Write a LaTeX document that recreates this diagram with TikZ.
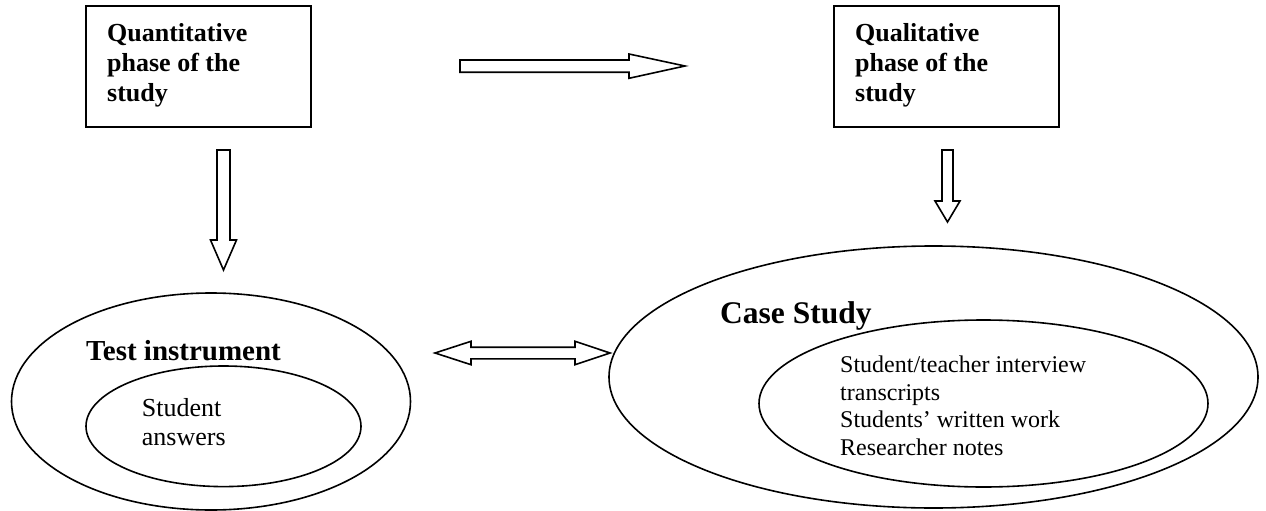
\documentclass[tikz,border=0pt]{standalone}
\usepackage{fontspec}
\setmainfont{Liberation Serif}
\usetikzlibrary{shapes.geometric}
\begin{document}
\begin{tikzpicture}[x=1pt,y=-1pt,
  phasebox/.style={draw,line width=2pt,rectangle,minimum width=225pt,minimum height=121pt,inner sep=0pt},
  oval/.style={draw,line width=1.6pt,ellipse,inner sep=0pt},
  blockarrow/.style={draw,line width=1.6pt,line join=miter},
  boxtext/.style={anchor=base west,inner sep=0pt,align=left,font=\bfseries\fontsize{26}{30}\selectfont},
  titletext/.style={anchor=base west,inner sep=0pt,font=\bfseries\fontsize{29}{33}\selectfont},
  itemtext/.style={anchor=base west,inner sep=0pt,align=left,font=\fontsize{24}{27.5}\selectfont}
]
\useasboundingbox (0,0) rectangle (1266,511);
% boxes
\node[phasebox] (quant) at (198.5,66.5) {};
\node[phasebox] (qual) at (946.5,66.5) {};
\node[boxtext] (quanttext) at (107,101.7) {Quantitative\\phase of the\\study};
\node[boxtext] (qualtext) at (855,101.7) {Qualitative\\phase of the\\study};
% ellipses
\node[oval,minimum width=399pt,minimum height=217pt] (testouter) at (211,401.5) {};
\node[oval,minimum width=275pt,minimum height=120.6pt] (testinner) at (223.5,426.3) {};
\node[oval,minimum width=649pt,minimum height=262pt] (caseouter) at (933.5,377) {};
\node[oval,minimum width=449pt,minimum height=167pt] (caseinner) at (983.5,403.5) {};
% texts
\node[titletext] (testtitle) at (86,360) {Test instrument};
\node[titletext,font=\bfseries\fontsize{31.5}{35}\selectfont] (casetitle) at (720,323) {Case Study};
\node[itemtext,font=\fontsize{26}{28.3}\selectfont] (answers) at (141.7,445) {Student\\answers};
\node[itemtext] (items) at (840,455) {Student/teacher interview\\transcripts\\Students’ written work\\Researcher notes};
% block arrows
\draw[blockarrow] (460,60) -- (629,60) -- (629,54) -- (685,66) -- (629,78.3) -- (629,72.3) -- (460,72.3) -- cycle;
\draw[blockarrow] (217,150) -- (230,150) -- (230,240) -- (236.5,240) -- (223.5,270) -- (210.5,240) -- (217,240) -- cycle;
\draw[blockarrow] (942,150) -- (953,150) -- (953,201) -- (960,201) -- (947.5,222) -- (935,201) -- (942,201) -- cycle;
\draw[blockarrow] (435,353) -- (471,341.3) -- (471,347.2) -- (575,347.2) -- (575,341.3) -- (610,353) -- (575,364.7) -- (575,358.8) -- (471,358.8) -- (471,364.7) -- cycle;
\end{tikzpicture}
\end{document}
